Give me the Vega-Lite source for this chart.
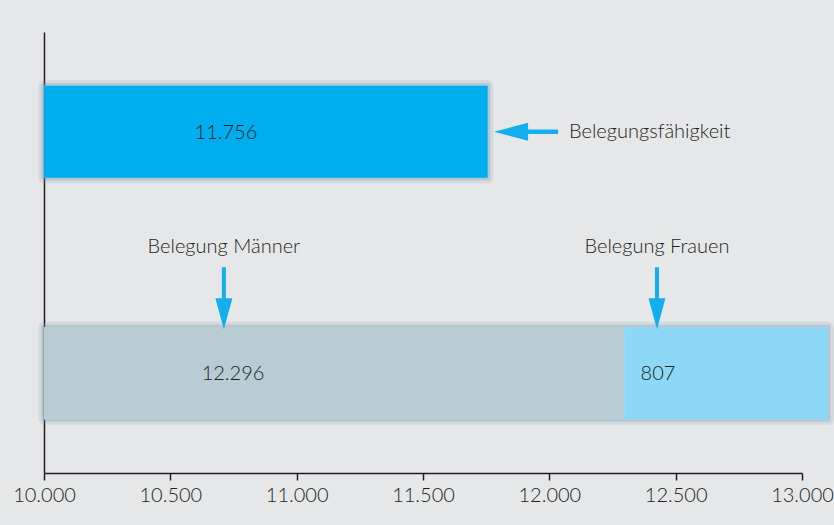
{
  "$schema": "https://vega.github.io/schema/vega-lite/v6.json",
  "width": 758,
  "height": 441,
  "autosize": "none",
  "padding": {"left": 44, "top": 32, "right": 32, "bottom": 52},
  "background": "#e6e7e9",
  "config": {
    "view": {"stroke": null},
    "font": "Lato",
    "text": {"font": "Lato", "color": "#231f20", "fontWeight": 300}
  },
  "datasets": {
    "bars": [
      {"row": "Belegungsfähigkeit", "segment": "Belegungsfähigkeit", "start": 10000, "end": 11756, "label": "11.756", "labelX": 10720},
      {"row": "Belegung", "segment": "Männer", "start": 10000, "end": 12296, "label": "12.296", "labelX": 10748},
      {"row": "Belegung", "segment": "Frauen", "start": 12296, "end": 13103, "label": "807", "labelX": 12430}
    ],
    "downArrows": [
      {"row": "Belegung", "x": 10712, "text": "Belegung Männer"},
      {"row": "Belegung", "x": 12426, "text": "Belegung Frauen"}
    ],
    "leftArrow": [
      {"row": "Belegungsfähigkeit", "x": 11908, "textX": 12078, "text": "Belegungsfähigkeit"}
    ]
  },
  "encoding": {
    "y": {
      "field": "row",
      "type": "nominal",
      "scale": {"domain": ["Belegungsfähigkeit", "Belegung"], "paddingInner": 0.619, "paddingOuter": 0.2226},
      "axis": {"title": null, "labels": false, "ticks": false, "domain": true, "domainColor": "#231f20", "domainWidth": 1.5, "grid": false}
    }
  },
  "layer": [
    {
      "data": {"name": "bars"},
      "transform": [{"aggregate": [{"op": "min", "field": "start", "as": "start"}, {"op": "max", "field": "end", "as": "end"}], "groupby": ["row"]}],
      "mark": {"type": "bar", "color": "#dfe3e6", "stroke": "#6f97ad", "strokeWidth": 11, "strokeOpacity": 0.16, "strokeJoin": "round"},
      "encoding": {
        "x": {"field": "start", "type": "quantitative",
          "scale": {"domain": [10000, 13000], "zero": false, "nice": false},
          "axis": {"title": null, "values": [10000, 10500, 11000, 11500, 12000, 12500, 13000],
            "labelExpr": "replace(format(datum.value, ','), ',', '.')",
            "domainColor": "#231f20", "domainWidth": 1.5, "tickColor": "#231f20", "tickWidth": 1.5, "tickSize": 7,
            "labelFont": "Lato", "labelFontWeight": 300, "labelFontSize": 20, "labelColor": "#231f20", "labelPadding": 5, "grid": false, "labelFlush": false}},
        "x2": {"field": "end"}
      }
    },
    {
      "data": {"name": "bars"},
      "transform": [{"aggregate": [{"op": "min", "field": "start", "as": "start"}, {"op": "max", "field": "end", "as": "end"}], "groupby": ["row"]}],
      "mark": {"type": "bar", "color": "#dfe3e6", "stroke": "#6f97ad", "strokeWidth": 5, "strokeOpacity": 0.3, "strokeJoin": "round"},
      "encoding": {
        "x": {"field": "start", "type": "quantitative"},
        "x2": {"field": "end"}
      }
    },
    {
      "data": {"name": "bars"},
      "mark": {"type": "bar"},
      "encoding": {
        "x": {"field": "start", "type": "quantitative"},
        "x2": {"field": "end"},
        "color": {"field": "segment", "type": "nominal", "legend": null,
          "scale": {"domain": ["Belegungsfähigkeit", "Männer", "Frauen"], "range": ["#00aeef", "#b9cbd3", "#8ed8f7"]}}
      }
    },
    {
      "data": {"name": "bars"},
      "mark": {"type": "text", "fontSize": 20, "align": "center", "baseline": "middle", "dy": 1},
      "encoding": {
        "x": {"field": "labelX", "type": "quantitative"},
        "text": {"field": "label"}
      }
    },
    {
      "data": {"name": "leftArrow"},
      "mark": {"type": "point", "filled": true, "opacity": 1, "color": "#12aeee", "size": 4096,
        "shape": "M -1 0 L 0.0625 -0.28 L 0.0625 -0.07 L 1 -0.07 L 1 0.07 L 0.0625 0.07 L 0.0625 0.28 Z"},
      "encoding": {
        "x": {"field": "x", "type": "quantitative"}
      }
    },
    {
      "data": {"name": "leftArrow"},
      "mark": {"type": "text", "fontSize": 20, "align": "left", "baseline": "middle"},
      "encoding": {
        "x": {"field": "textX", "type": "quantitative"},
        "text": {"field": "text"}
      }
    },
    {
      "data": {"name": "downArrows"},
      "mark": {"type": "point", "filled": true, "opacity": 1, "color": "#12aeee", "size": 3844, "yOffset": -75,
        "shape": "M -0.065 -1 L 0.065 -1 L 0.065 0 L 0.274 0 L 0 1 L -0.274 0 L -0.065 0 Z"},
      "encoding": {
        "x": {"field": "x", "type": "quantitative"}
      }
    },
    {
      "data": {"name": "downArrows"},
      "mark": {"type": "text", "fontSize": 20, "align": "center", "baseline": "middle", "yOffset": -126},
      "encoding": {
        "x": {"field": "x", "type": "quantitative"},
        "text": {"field": "text"}
      }
    }
  ]
}
